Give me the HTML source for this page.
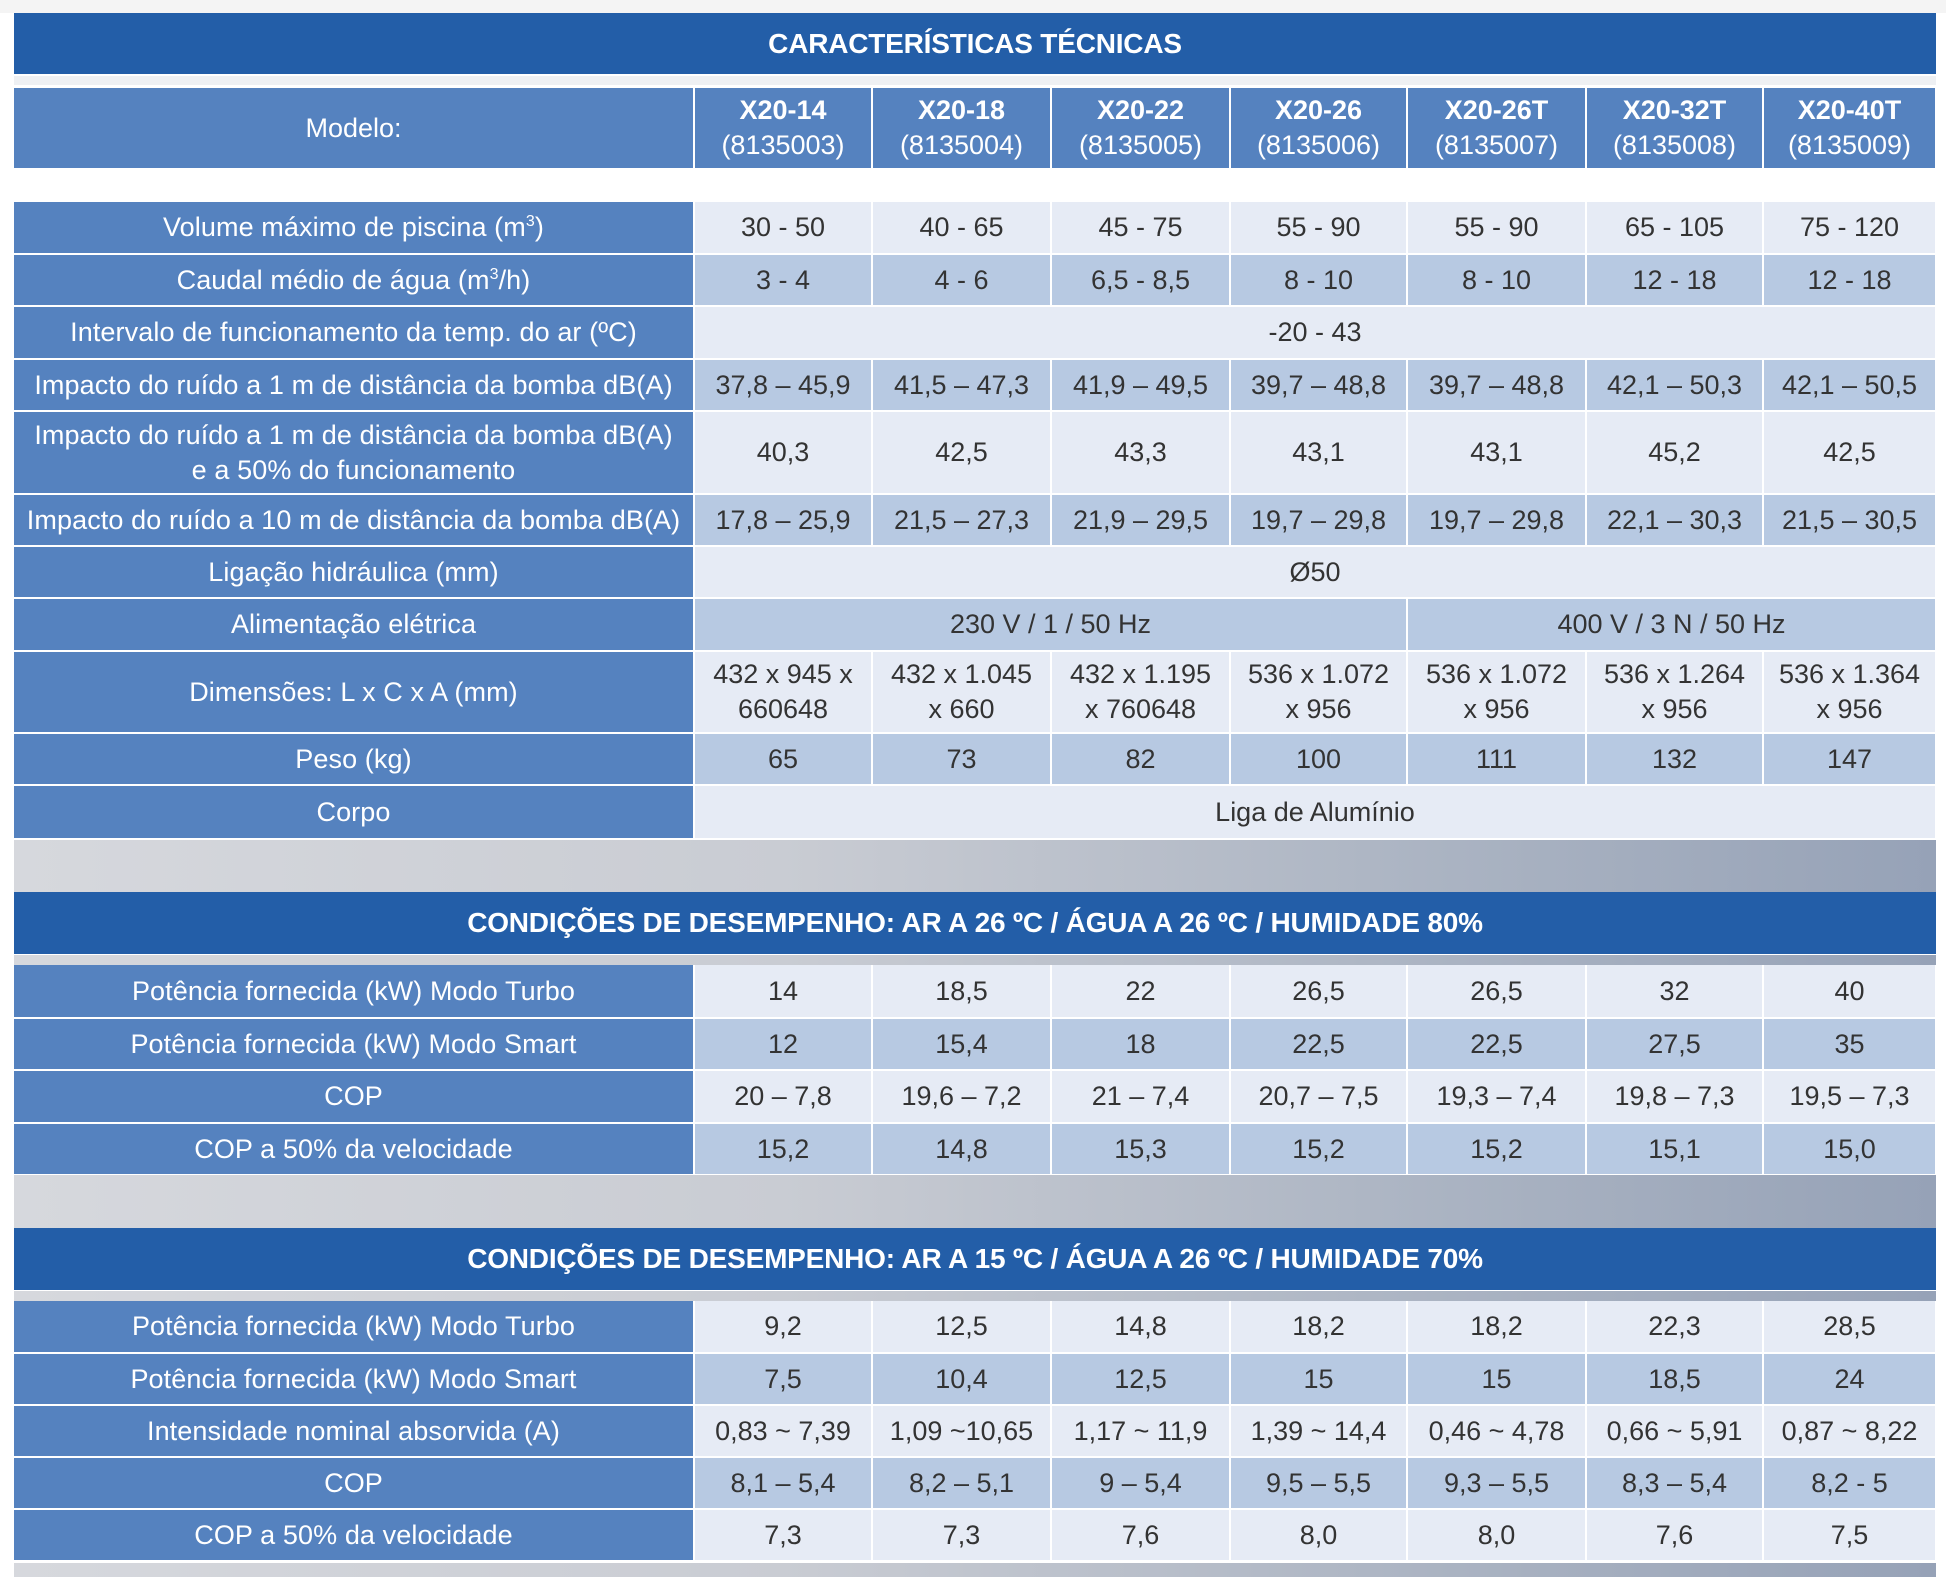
<!DOCTYPE html>
<html><head><meta charset="utf-8"><style>
*{margin:0;padding:0;box-sizing:border-box}
body{width:1946px;height:1577px;background:#fff;position:relative;overflow:hidden;font-family:"Liberation Sans",sans-serif}
.band{position:absolute;left:14px;width:1922px;background:#235ea8;color:#fff;font-weight:bold;font-size:28px;display:flex;align-items:center;justify-content:center;letter-spacing:-0.2px}
.gray{position:absolute;left:14px;width:1922px;background:linear-gradient(90deg,#d6d8dd 0%,#c9ccd3 40%,#aab3c2 75%,#96a2b7 100%)}
table{position:absolute;left:14px;width:1922px;border-collapse:collapse;table-layout:fixed}
td{border-right:2px solid #fff;border-bottom:2px solid #fff;text-align:center;vertical-align:middle;font-size:27px;color:#333;letter-spacing:0px;line-height:35px;padding:0 1px;white-space:nowrap}
td.l{background:#5582bf;color:#fff;letter-spacing:0.1px}
tr.a td{background:#e6ebf5}
tr.b td{background:#b7c9e2}
tr td.l{background:#5582bf}
td.h{background:#5582bf;color:#fff}
td.h b{font-size:27px}
sup{font-size:16px;vertical-align:10px;line-height:0}
</style></head><body>
<div style="position:absolute;left:0;top:0;width:1946px;height:13px;background:#f4f4f4"></div>
<div class="band" style="top:13px;height:61px">CARACTERÍSTICAS TÉCNICAS</div>
<div style="position:absolute;left:14px;top:76px;width:1922px;height:9px;background:#eef0f3"></div>
<table style="top:88px">
<colgroup><col style="width:680px"><col style="width:178px"><col style="width:179px"><col style="width:179px"><col style="width:177px"><col style="width:179px"><col style="width:177px"><col style="width:173px"></colgroup>
<tr style="height:81px"><td class="h">Modelo:</td><td class="h"><b>X20-14</b><br>(8135003)</td><td class="h"><b>X20-18</b><br>(8135004)</td><td class="h"><b>X20-22</b><br>(8135005)</td><td class="h"><b>X20-26</b><br>(8135006)</td><td class="h"><b>X20-26T</b><br>(8135007)</td><td class="h"><b>X20-32T</b><br>(8135008)</td><td class="h"><b>X20-40T</b><br>(8135009)</td></tr>
</table>
<table style="top:202px">
<colgroup><col style="width:680px"><col style="width:178px"><col style="width:179px"><col style="width:179px"><col style="width:177px"><col style="width:179px"><col style="width:177px"><col style="width:173px"></colgroup>
<tr class="a" style="height:52px"><td class="l">Volume máximo de piscina (m<sup>3</sup>)</td><td>30 - 50</td><td>40 - 65</td><td>45 - 75</td><td>55 - 90</td><td>55 - 90</td><td>65 - 105</td><td>75 - 120</td></tr>
<tr class="b" style="height:52px"><td class="l">Caudal médio de água (m<sup>3</sup>/h)</td><td>3 - 4</td><td>4 - 6</td><td>6,5 - 8,5</td><td>8 - 10</td><td>8 - 10</td><td>12 - 18</td><td>12 - 18</td></tr>
<tr class="a" style="height:53px"><td class="l">Intervalo de funcionamento da temp. do ar (ºC)</td><td colspan="7">-20 - 43</td></tr>
<tr class="b" style="height:52px"><td class="l">Impacto do ruído a 1 m de distância da bomba dB(A)</td><td>37,8 – 45,9</td><td>41,5 – 47,3</td><td>41,9 – 49,5</td><td>39,7 – 48,8</td><td>39,7 – 48,8</td><td>42,1 – 50,3</td><td>42,1 – 50,5</td></tr>
<tr class="a" style="height:83px"><td class="l">Impacto do ruído a 1 m de distância da bomba dB(A)<br>e a 50% do funcionamento</td><td>40,3</td><td>42,5</td><td>43,3</td><td>43,1</td><td>43,1</td><td>45,2</td><td>42,5</td></tr>
<tr class="b" style="height:52px"><td class="l">Impacto do ruído a 10 m de distância da bomba dB(A)</td><td>17,8 – 25,9</td><td>21,5 – 27,3</td><td>21,9 – 29,5</td><td>19,7 – 29,8</td><td>19,7 – 29,8</td><td>22,1 – 30,3</td><td>21,5 – 30,5</td></tr>
<tr class="a" style="height:52px"><td class="l">Ligação hidráulica (mm)</td><td colspan="7">Ø50</td></tr>
<tr class="b" style="height:53px"><td class="l">Alimentação elétrica</td><td colspan="4">230 V / 1 / 50 Hz</td><td colspan="3">400 V / 3 N / 50 Hz</td></tr>
<tr class="a" style="height:82px"><td class="l">Dimensões: L x C x A (mm)</td><td>432 x 945 x<br>660648</td><td>432 x 1.045<br>x 660</td><td>432 x 1.195<br>x 760648</td><td>536 x 1.072<br>x 956</td><td>536 x 1.072<br>x 956</td><td>536 x 1.264<br>x 956</td><td>536 x 1.364<br>x 956</td></tr>
<tr class="b" style="height:52px"><td class="l">Peso (kg)</td><td>65</td><td>73</td><td>82</td><td>100</td><td>111</td><td>132</td><td>147</td></tr>
<tr class="a" style="height:54px"><td class="l">Corpo</td><td colspan="7">Liga de Alumínio</td></tr>
</table>
<div class="gray" style="top:840px;height:52px"></div>
<div class="band" style="top:892px;height:62px">CONDIÇÕES DE DESEMPENHO: AR A 26 ºC / ÁGUA A 26 ºC / HUMIDADE 80%</div>
<div class="gray" style="top:955px;height:10px"></div>
<table style="top:965px">
<colgroup><col style="width:680px"><col style="width:178px"><col style="width:179px"><col style="width:179px"><col style="width:177px"><col style="width:179px"><col style="width:177px"><col style="width:173px"></colgroup>
<tr class="a" style="height:53px"><td class="l">Potência fornecida (kW) Modo Turbo</td><td>14</td><td>18,5</td><td>22</td><td>26,5</td><td>26,5</td><td>32</td><td>40</td></tr>
<tr class="b" style="height:52px"><td class="l">Potência fornecida (kW) Modo Smart</td><td>12</td><td>15,4</td><td>18</td><td>22,5</td><td>22,5</td><td>27,5</td><td>35</td></tr>
<tr class="a" style="height:53px"><td class="l">COP</td><td>20 – 7,8</td><td>19,6 – 7,2</td><td>21 – 7,4</td><td>20,7 – 7,5</td><td>19,3 – 7,4</td><td>19,8 – 7,3</td><td>19,5 – 7,3</td></tr>
<tr class="b" style="height:52px"><td class="l">COP a 50% da velocidade</td><td>15,2</td><td>14,8</td><td>15,3</td><td>15,2</td><td>15,2</td><td>15,1</td><td>15,0</td></tr>
</table>
<div class="gray" style="top:1175px;height:53px"></div>
<div class="band" style="top:1228px;height:62px">CONDIÇÕES DE DESEMPENHO: AR A 15 ºC / ÁGUA A 26 ºC / HUMIDADE 70%</div>
<div class="gray" style="top:1291px;height:10px"></div>
<table style="top:1301px">
<colgroup><col style="width:680px"><col style="width:178px"><col style="width:179px"><col style="width:179px"><col style="width:177px"><col style="width:179px"><col style="width:177px"><col style="width:173px"></colgroup>
<tr class="a" style="height:52px"><td class="l">Potência fornecida (kW) Modo Turbo</td><td>9,2</td><td>12,5</td><td>14,8</td><td>18,2</td><td>18,2</td><td>22,3</td><td>28,5</td></tr>
<tr class="b" style="height:52px"><td class="l">Potência fornecida (kW) Modo Smart</td><td>7,5</td><td>10,4</td><td>12,5</td><td>15</td><td>15</td><td>18,5</td><td>24</td></tr>
<tr class="a" style="height:52px"><td class="l">Intensidade nominal absorvida (A)</td><td>0,83 ~ 7,39</td><td>1,09 ~10,65</td><td>1,17 ~ 11,9</td><td>1,39 ~ 14,4</td><td>0,46 ~ 4,78</td><td>0,66 ~ 5,91</td><td>0,87 ~ 8,22</td></tr>
<tr class="b" style="height:52px"><td class="l">COP</td><td>8,1 – 5,4</td><td>8,2 – 5,1</td><td>9 – 5,4</td><td>9,5 – 5,5</td><td>9,3 – 5,5</td><td>8,3 – 5,4</td><td>8,2 - 5</td></tr>
<tr class="a" style="height:52px"><td class="l">COP a 50% da velocidade</td><td>7,3</td><td>7,3</td><td>7,6</td><td>8,0</td><td>8,0</td><td>7,6</td><td>7,5</td></tr>
</table>
<div class="gray" style="top:1563px;height:14px"></div>
</body></html>
